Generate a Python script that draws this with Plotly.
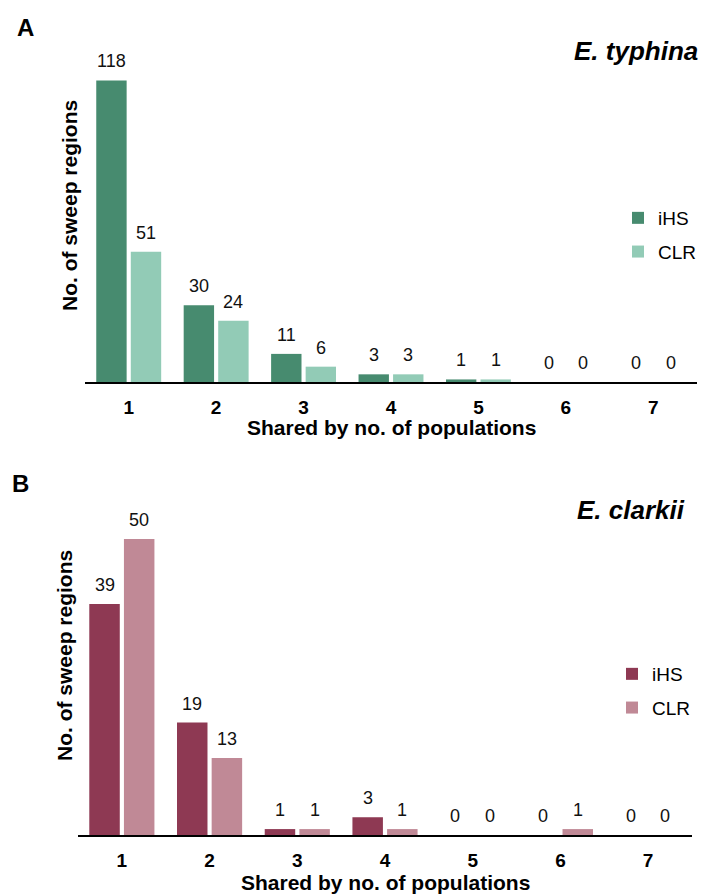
import plotly.graph_objects as go

# Number of populations sharing a sweep region
categories = ["1", "2", "3", "4", "5", "6", "7"]

# E. typhina counts
typhina_ihs = [118, 30, 11, 3, 1, 0, 0]
typhina_clr = [51, 24, 6, 3, 1, 0, 0]

# E. clarkii counts
clarkii_ihs = [39, 19, 1, 3, 0, 0, 0]
clarkii_clr = [50, 13, 1, 1, 0, 1, 0]

series_names = ["iHS", "CLR"]

W, H = 705, 896
FONT = "Liberation Sans, Arial, Helvetica, sans-serif"

GREEN_DARK, GREEN_LIGHT = "#478B6F", "#92CBB6"
RED_DARK, RED_LIGHT = "#8E3953", "#C08996"

BARGAP, BARGROUPGAP = 0.21, 0.12

# panel geometry in pixels (left, right, top, bottom of plotting area)
panels = {
    "A": dict(left=85, right=697, top=60, bottom=382, ymax=126),
    "B": dict(left=78, right=692, top=520, bottom=835, ymax=53.2),
}


def px_x(v):
    return v / W


def px_y(v):
    return 1 - v / H


fig = go.Figure()

panel_data = [
    ("A", "x", "y", "legend", typhina_ihs, typhina_clr, GREEN_DARK, GREEN_LIGHT),
    ("B", "x2", "y2", "legend2", clarkii_ihs, clarkii_clr, RED_DARK, RED_LIGHT),
]

annotations = []
for key, xa, ya, leg, ihs, clr, c1, c2 in panel_data:
    for name, vals, col, grp in zip(series_names, [ihs, clr], [c1, c2], ["g1", "g2"]):
        fig.add_trace(go.Bar(
            x=categories, y=vals, name=name, marker=dict(color=col, line=dict(width=0)),
            xaxis=xa, yaxis=ya, legend=leg, legendgroup=key + grp, showlegend=True,
        ))
    # value labels above each bar (x given as category index)
    p = panels[key]
    cat_px = (p["right"] - p["left"]) / len(categories)
    half_slot = cat_px * (1 - BARGAP) / 4
    for vals, sign in [(ihs, -1), (clr, 1)]:
        for i, v in enumerate(vals):
            annotations.append(dict(
                x=i, y=v, xref=xa, yref=ya, text=str(v), showarrow=False,
                xanchor="center", yanchor="bottom", xshift=sign * half_slot, yshift=7,
                font=dict(size=18, color="#111", family=FONT),
            ))

axis_common_x = dict(
    type="category", range=[-0.5, len(categories) - 0.5],
    showline=True, linecolor="black", linewidth=2,
    ticks="outside", ticklen=7, tickcolor="rgba(0,0,0,0)",
    tickfont=dict(size=19, color="black", family="Liberation Sans, Arial, sans-serif", weight="bold"),
    showgrid=False, zeroline=False, fixedrange=True,
)
axis_common_y = dict(
    showline=False, showticklabels=False, ticks="", showgrid=False, zeroline=False,
)

pa, pb = panels["A"], panels["B"]
fig.update_layout(
    width=W, height=H, margin=dict(l=0, r=0, t=0, b=0),
    paper_bgcolor="white", plot_bgcolor="white",
    barmode="group", bargap=BARGAP, bargroupgap=BARGROUPGAP,
    font=dict(family=FONT, color="black"),
    xaxis=dict(domain=[px_x(pa["left"]), px_x(pa["right"])], anchor="y", **axis_common_x),
    yaxis=dict(domain=[px_y(pa["bottom"]), px_y(pa["top"])], anchor="x",
               range=[0, pa["ymax"]], **axis_common_y),
    xaxis2=dict(domain=[px_x(pb["left"]), px_x(pb["right"])], anchor="y2", **axis_common_x),
    yaxis2=dict(domain=[px_y(pb["bottom"]), px_y(pb["top"])], anchor="x2",
                range=[0, pb["ymax"]], **axis_common_y),
    legend=dict(x=px_x(618), y=px_y(199), xanchor="left", yanchor="top",
                font=dict(size=19, family=FONT), tracegroupgap=6, bgcolor="rgba(0,0,0,0)"),
    legend2=dict(x=px_x(612), y=px_y(655), xanchor="left", yanchor="top",
                 font=dict(size=19, family=FONT), tracegroupgap=6, bgcolor="rgba(0,0,0,0)"),
    showlegend=True,
)

# panel letters, species names and axis titles
text_items = [
    dict(text="<b>A</b>", x=15, y=27, size=24, xanchor="left"),
    dict(text="<b>B</b>", x=10, y=483, size=24, xanchor="left"),
    dict(text="<b><i>E. typhina</i></b>", x=700, y=51, size=26, xanchor="right"),
    dict(text="<b><i>E. clarkii</i></b>", x=687, y=510, size=26, xanchor="right"),
    dict(text="<b>Shared by no. of populations</b>", x=391, y=427, size=21, xanchor="center"),
    dict(text="<b>Shared by no. of populations</b>", x=385, y=882, size=21, xanchor="center"),
    dict(text="<b>No. of sweep regions</b>", x=69, y=206, size=21, xanchor="center", angle=-90),
    dict(text="<b>No. of sweep regions</b>", x=64, y=656, size=21, xanchor="center", angle=-90),
]
for t in text_items:
    annotations.append(dict(
        text=t["text"], x=px_x(t["x"]), y=px_y(t["y"]), xref="paper", yref="paper",
        xanchor=t["xanchor"], yanchor="middle", showarrow=False,
        textangle=t.get("angle", 0), font=dict(size=t["size"], color="black", family=FONT),
    ))

fig.update_layout(annotations=annotations)
fig.write_html("out.html")
